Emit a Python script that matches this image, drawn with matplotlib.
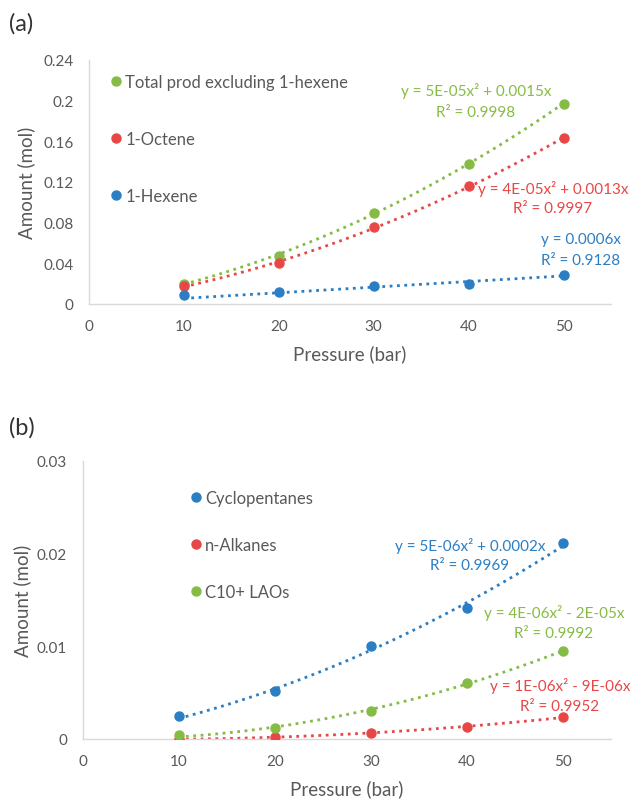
import matplotlib
matplotlib.use("Agg")
import matplotlib.pyplot as plt
import numpy as np
from matplotlib.lines import Line2D

plt.rcParams["font.family"] = ["Lato", "DejaVu Sans"]

pressure = [10, 20, 30, 40, 50]

# panel (a)
total_excl_hexene = [0.0197, 0.0475, 0.0900, 0.1380, 0.1970]
octene = [0.0174, 0.0400, 0.0754, 0.1160, 0.1630]
hexene = [0.0089, 0.0115, 0.0180, 0.0193, 0.0282]

# panel (b)
cyclopentanes = [0.00251, 0.00520, 0.01000, 0.01410, 0.02110]
n_alkanes = [0.00000, 0.00018, 0.00068, 0.00133, 0.00234]
c10_laos = [0.00043, 0.00122, 0.00305, 0.00607, 0.00949]

eq_a = {
    "total": ("y = 5E-05x² + 0.0015x", "R² = 0.9998"),
    "octene": ("y = 4E-05x² + 0.0013x", "R² = 0.9997"),
    "hexene": ("y = 0.0006x", "R² = 0.9128"),
}
eq_b = {
    "cyclo": ("y = 5E-06x² + 0.0002x", "R² = 0.9969"),
    "laos": ("y = 4E-06x² - 2E-05x", "R² = 0.9992"),
    "alkanes": ("y = 1E-06x² - 9E-06x", "R² = 0.9952"),
}

GREEN = "#86BC45"
RED = "#E84747"
BLUE = "#2B7EC4"
GRAY = "#595959"

W, H = 635, 803


def fpos(px, py):
    return px / W, 1 - py / H


def trend(x, y, order):
    # excel-style trendline with intercept forced to zero
    x = np.asarray(x, float)
    y = np.asarray(y, float)
    cols = [x ** p for p in range(order, 0, -1)]
    coef, *_ = np.linalg.lstsq(np.column_stack(cols), y, rcond=None)
    xs = np.linspace(x.min(), x.max(), 120)
    ys = sum(c * xs ** p for c, p in zip(coef, range(order, 0, -1)))
    return xs, ys


def style_axes(ax, ymax, ystep, ylabel_x):
    ax.set_xlim(0, 55)
    ax.set_ylim(0, ymax)
    ax.set_xticks(np.arange(0, 51, 10))
    yt = np.arange(0, ymax + ystep / 2, ystep)
    ax.set_yticks(yt)
    ax.set_yticklabels([f"{v:g}" for v in np.round(yt, 4)])
    for s in ["top", "right"]:
        ax.spines[s].set_visible(False)
    for s in ["left", "bottom"]:
        ax.spines[s].set_color("#D9D9D9")
        ax.spines[s].set_linewidth(1.0)
    ax.tick_params(length=0, pad=11, labelsize=11, labelcolor=GRAY)
    ax.set_xlabel("Pressure (bar)", fontsize=13.5, color=GRAY, labelpad=8)
    ax.set_ylabel("Amount (mol)", fontsize=13.5, color=GRAY)
    # y title anchored at a fixed pixel column (right edge of rotated text)
    pos = ax.get_position()
    ax.yaxis.set_label_coords((ylabel_x / W - pos.x0) / pos.width, 0.5)


def plot_series(ax, y, color, order, label):
    xs, ys = trend(pressure, y, order)
    ax.plot(xs, ys, ls=":", lw=2.0, color=color, zorder=2)
    ax.plot(pressure, y, "o", ms=6.5, color=color, zorder=3, label=label)


def eq_text(fig, lines, cx, y1, y2, color):
    fig.text(*fpos(cx, y1), lines[0], ha="center", va="center", fontsize=11, color=color)
    fig.text(*fpos(cx, y2), lines[1], ha="center", va="center", fontsize=11, color=color)


def add_legend(ax, fig, entries, px, py, spacing):
    handles = [Line2D([], [], ls="", marker="o", ms=6.5, color=c) for c, _ in entries]
    labels = [l for _, l in entries]
    ax.legend(handles, labels, loc="upper left", bbox_to_anchor=fpos(px, py),
              bbox_transform=fig.transFigure, frameon=False, fontsize=12,
              labelspacing=spacing, handlelength=0.55, handletextpad=0.3,
              borderpad=0, borderaxespad=0, labelcolor=GRAY)


fig = plt.figure(figsize=(W / 100, H / 100), dpi=100)

# ---- (a)
l, _ = fpos(89, 0)
r, _ = fpos(611, 0)
_, t = fpos(0, 61)
_, b = fpos(0, 305)
ax1 = fig.add_axes([l, b, r - l, t - b])
style_axes(ax1, 0.24, 0.04, 35)
plot_series(ax1, total_excl_hexene, GREEN, 2, "Total prod excluding 1-hexene")
plot_series(ax1, octene, RED, 2, "1-Octene")
plot_series(ax1, hexene, BLUE, 1, "1-Hexene")
add_legend(ax1, fig, [(GREEN, "Total prod excluding 1-hexene"), (RED, "1-Octene"), (BLUE, "1-Hexene")],
           111, 75, 2.45)
eq_text(fig, eq_a["total"], 476, 91, 113, GREEN)
eq_text(fig, eq_a["octene"], 553, 189, 209, RED)
eq_text(fig, eq_a["hexene"], 581, 240, 261, BLUE)
fig.text(*fpos(9, 24), "(a)", fontsize=17, color="#333333", va="center")

# ---- (b)
l, _ = fpos(82.5, 0)
_, t = fpos(0, 462)
_, b = fpos(0, 740)
ax2 = fig.add_axes([l, b, r - l, t - b])
style_axes(ax2, 0.03, 0.01, 31)
plot_series(ax2, cyclopentanes, BLUE, 2, "Cyclopentanes")
plot_series(ax2, n_alkanes, RED, 2, "n-Alkanes")
plot_series(ax2, c10_laos, GREEN, 2, "C10+ LAOs")
add_legend(ax2, fig, [(BLUE, "Cyclopentanes"), (RED, "n-Alkanes"), (GREEN, "C10+ LAOs")],
           191, 491, 1.85)
eq_text(fig, eq_b["cyclo"], 470, 546, 566, BLUE)
eq_text(fig, eq_b["laos"], 554, 613, 634, GREEN)
eq_text(fig, eq_b["alkanes"], 560, 686, 707, RED)
fig.text(*fpos(9, 428), "(b)", fontsize=17, color="#333333", va="center")

fig.savefig("out.png", dpi=100, facecolor="white")
